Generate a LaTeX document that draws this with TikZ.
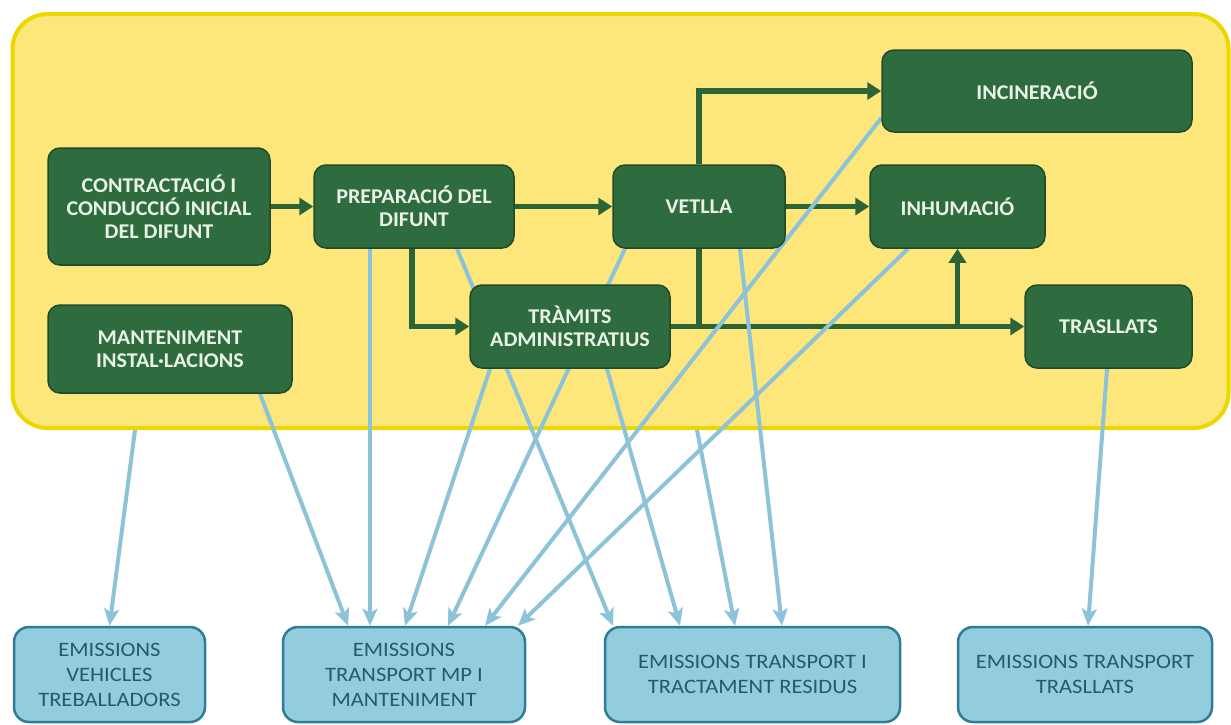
\documentclass[tikz,border=0pt]{standalone}
\usepackage{fontspec}
\setmainfont{Carlito}
\newfontfamily\calib{Carlito}[FakeStretch=1.05]
\newfontfamily\calibw{Carlito}[FakeStretch=1.1]
\usetikzlibrary{arrows.meta}
\definecolor{yfill}{HTML}{FDE77A}
\definecolor{yline}{HTML}{EED600}
\definecolor{gfill}{HTML}{2E6B3E}
\definecolor{gborder}{HTML}{1F4A2A}
\definecolor{gtext}{HTML}{EAF2E6}
\definecolor{bfill}{HTML}{93CDDD}
\definecolor{bborder}{HTML}{2E7D97}
\definecolor{btext}{HTML}{25596B}
\definecolor{barrow}{HTML}{8DC3D9}
\definecolor{garrow}{HTML}{2B6438}
\pgfdeclarelayer{bg}
\pgfdeclarelayer{mid}
\pgfsetlayers{bg,mid,main}
\begin{document}
\begin{tikzpicture}[x=1pt,y=-1pt,
  container/.style={draw=yline, line width=4pt, fill=yfill, rounded corners=35pt, inner sep=0pt},
  gbox/.style={draw=gborder, line width=1.5pt, fill=gfill, rounded corners=12pt, text=gtext, align=center,
    font=\calib\bfseries\fontsize{21}{23}\selectfont, inner sep=0pt},
  bbox/.style={draw=bborder, line width=2.5pt, fill=bfill, rounded corners=15pt, text=btext, align=center,
    font=\calibw\fontsize{20.5}{25}\selectfont, inner sep=0pt, minimum height=95pt},
  garr/.style={draw=garrow, line width=5.5pt, -{Triangle[length=14pt,width=17pt]}},
  gpath/.style={draw=garrow, line width=5.5pt},
  barr/.style={draw=barrow, line width=4pt, -{Stealth[length=17pt,width=15pt,inset=4pt]}},
]
\useasboundingbox (0,0) rectangle (1231,724);

\begin{pgfonlayer}{bg}
\fill[white] (0,0) rectangle (1231,724);
\node[container, minimum width=1216pt, minimum height=414pt] (proc) at (620.5,221) {};
\end{pgfonlayer}

% green process boxes
\node[gbox, minimum width=222pt, minimum height=117pt] (contr) at (159,206.5) {CONTRACTACIÓ I\\CONDUCCIÓ INICIAL\\DEL DIFUNT};
\node[gbox, minimum width=200pt, minimum height=83pt] (prep) at (414,206.5) {PREPARACIÓ DEL\\DIFUNT};
\node[gbox, minimum width=172pt, minimum height=83pt] (vet) at (699,206.5) {VETLLA};
\node[gbox, minimum width=310pt, minimum height=82pt] (incin) at (1037,91) {INCINERACIÓ};
\node[gbox, minimum width=175pt, minimum height=83pt] (inhum) at (957.5,206.5) {INHUMACIÓ};
\node[gbox, minimum width=200pt, minimum height=83pt] (tram) at (570,326.5) {TRÀMITS\\ADMINISTRATIUS};
\node[gbox, minimum width=167pt, minimum height=83pt] (trasl) at (1108.5,326.5) {TRASLLATS};
\node[gbox, minimum width=244pt, minimum height=88pt] (mant) at (170,349) {MANTENIMENT\\INSTAL·LACIONS};

% blue emission boxes
\node[bbox, minimum width=191pt] (box1) at (109.5,674.5) {EMISSIONS\\VEHICLES\\TREBALLADORS};
\node[bbox, minimum width=242pt] (box2) at (404,674.5) {EMISSIONS\\TRANSPORT MP I\\MANTENIMENT};
\node[bbox, minimum width=295pt] (box3) at (752.5,674.5) {EMISSIONS TRANSPORT I\\TRACTAMENT RESIDUS};
\node[bbox, minimum width=254pt] (box4) at (1085,674.5) {EMISSIONS TRANSPORT\\TRASLLATS};

\coordinate (jv) at (vet.south |- tram.east);
\coordinate (ji) at (inhum.south |- tram.east);

\begin{pgfonlayer}{mid}
% green flow
\draw[garr] (contr.east) -- (prep.west);
\draw[garr] (prep.east) -- (vet.west);
\draw[garr] (vet.east) -- (inhum.west);
\draw[garr] (vet.north) |- (incin.west);
\draw[garr] ([xshift=-2pt]prep.south) |- (tram.west);
\draw[garr] (tram.east) -- (trasl.west);
\draw[gpath] (vet.south) -- (jv);
\draw[garr] (ji) -- (inhum.south);

% blue emission links
\draw[barr] ([xshift=-485.5pt]proc.south) -- (box1.north);
\draw[barr] ([xshift=90pt]mant.south) -- ([xshift=-56pt]box2.north);
\draw[barr] ([xshift=-44pt]prep.south) -- ([xshift=-34pt]box2.north);
\draw[barr] ([xshift=-80pt]tram.south) -- ([xshift=1pt]box2.north);
\draw[barr] ([xshift=-74pt]vet.south) -- ([xshift=44pt]box2.north);
\draw[barr] ([yshift=-27pt]incin.west) -- ([xshift=81pt]box2.north);
\draw[barr] ([xshift=-49.5pt]inhum.south) -- ([xshift=114pt]box2.north);
\draw[barr] ([xshift=43pt]prep.south) -- ([xshift=-139.5pt]box3.north);
\draw[barr] ([xshift=37pt]tram.south) -- ([xshift=-72.5pt]box3.north);
\draw[barr] ([xshift=76.5pt]proc.south) -- ([xshift=-17.5pt]box3.north);
\draw[barr] ([xshift=41pt]vet.south) -- ([xshift=29.5pt]box3.north);
\draw[barr] ([xshift=-1.5pt]trasl.south) -- ([xshift=3pt]box4.north);
\end{pgfonlayer}
\end{tikzpicture}
\end{document}
